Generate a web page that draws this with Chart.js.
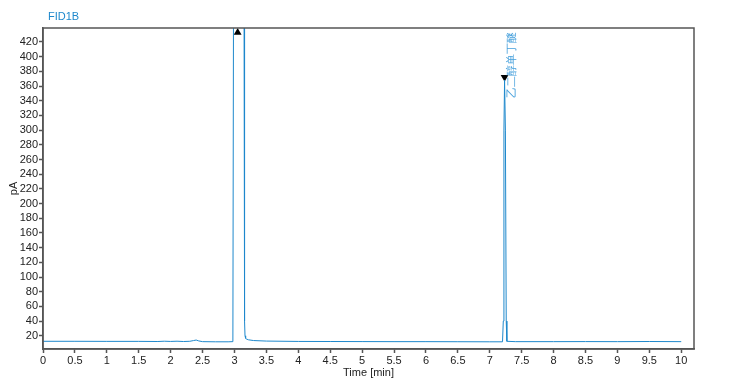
<!DOCTYPE html>
<html>
<head>
<meta charset="utf-8">
<script src="https://cdn.jsdelivr.net/npm/chart.js@4.4.0/dist/chart.umd.min.js"></script>
<style>
  body { margin: 0; background: #fff; }
  #wrap { width: 745px; height: 386px; position: relative; }
</style>
</head>
<body>
<div id="wrap"><canvas id="graph-box"></canvas></div>
<script>
// retention time (min) and detector signal (pA)
const times = [0, 0.5, 1.0, 1.5, 1.8, 1.9, 2.0, 2.1, 2.2, 2.3, 2.36, 2.40, 2.44, 2.5, 2.7, 2.9,
    2.975, 2.985, 3.15, 3.158, 3.165, 3.175, 3.19, 3.22, 3.3, 3.5, 4.0, 4.5, 5.0, 5.5, 6.0, 6.5, 7.0,
    7.2, 7.212, 7.222, 7.232, 7.245, 7.258, 7.268, 7.4, 8.0, 8.5, 9.0, 9.5, 10.0];
const signal = [12.5, 12.5, 12.4, 12.4, 12.2, 12.6, 12.3, 12.6, 12.2, 12.5, 13.5, 14.2, 13.0, 12.0, 11.8, 11.8,
    12, 480, 480, 40, 20, 16.5, 15.5, 14.5, 13.5, 12.8, 12.3, 12.2, 12.1, 12.0, 12.0, 11.9, 11.8,
    11.8, 40, 300, 368, 300, 40, 12.5, 12.0, 12.0, 12.1, 12.0, 12.2, 12.0];

// peak markers
const peakTimes = [3.05, 7.232];
const peakMarkY = [433, 372];
const peakNames = ['', '乙二醇单丁醚'];

const xTicks = [0, 10, 0.5];
const yTicks = [20, 420, 20];

const blue = 'rgb(30, 136, 204)';
const font = '"Liberation Sans", Arial, sans-serif';

const ctx = document.getElementById('graph-box');

const boxPlugin = {
    id: 'box',
    afterDraw(chart) {
        const c = chart.ctx, a = chart.chartArea;
        c.save();
        c.strokeStyle = '#555';
        c.lineWidth = 1.5;
        c.strokeRect(a.left, a.top, a.right - a.left, a.bottom - a.top);
        // title
        c.fillStyle = blue;
        c.font = '11px ' + font;
        c.textBaseline = 'middle';
        c.fillText('FID1B', 48, 17);
        // peak name labels
        const xs = chart.scales.x;
        c.fillStyle = 'rgb(70, 160, 220)';
        peakNames.forEach((name, i) => {
            if (!name) return;
            const px = xs.getPixelForValue(peakTimes[i]) + 7;
            c.save();
            c.translate(px, 98);
            c.rotate(-Math.PI / 2);
            c.textBaseline = 'middle';
            c.textAlign = 'left';
            c.fillText(name, 0, 0);
            c.restore();
        });
        c.restore();
    }
};

const myChart = new Chart(ctx, {
    type: 'scatter',
    data: {
        datasets: [
        {
            data: times.map((t, i) => ({x: t, y: signal[i]})),
            showLine: true,
            borderColor: blue,
            borderWidth: 1,
            pointRadius: 0,
            tension: 0
        },
        {
            data: [{x: peakTimes[0], y: peakMarkY[0]}],
            pointStyle: 'triangle',
            pointRadius: 4.5,
            backgroundColor: '#000',
            borderColor: '#000',
            borderWidth: 0,
            clip: false
        },
        {
            data: [{x: peakTimes[1], y: peakMarkY[1]}],
            pointStyle: 'triangle',
            rotation: 180,
            pointRadius: 4.5,
            backgroundColor: '#000',
            borderColor: '#000',
            borderWidth: 0,
            clip: false
        }]
    },
    options: {
        responsive: true,
        maintainAspectRatio: false,
        animation: false,
        layout: { padding: { top: 28, right: 51, left: 7, bottom: 6 } },
        plugins: {
            legend: { display: false },
            tooltip: { enabled: false }
        },
        scales: {
            x: {
                type: 'linear',
                min: 0,
                max: 10.2,
                afterFit(s) { s.height = 31; },
                grid: { drawOnChartArea: false, tickLength: 4, color: '#555', tickWidth: 1.5 },
                border: { color: '#555', width: 1.5 },
                ticks: {
                    stepSize: xTicks[2],
                    includeBounds: false,
                    maxRotation: 0,
                    autoSkip: false,
                    padding: 1,
                    color: '#222',
                    font: { size: 11, family: font },
                    callback: v => String(Math.round(v * 10) / 10)
                },
                title: {
                    display: true,
                    text: 'Time [min]',
                    color: '#222',
                    padding: { top: 0, bottom: 0 },
                    font: { size: 11, family: font }
                }
            },
            y: {
                min: 2,
                max: 439,
                afterFit(s) { s.width = 36; },
                afterBuildTicks(s) {
                    s.ticks = s.ticks.filter(t => t.value >= yTicks[0] && t.value <= yTicks[1]);
                },
                grid: { drawOnChartArea: false, tickLength: 4, color: '#555', tickWidth: 1.5 },
                border: { color: '#555', width: 1.5 },
                ticks: {
                    stepSize: yTicks[2],
                    includeBounds: false,
                    autoSkip: false,
                    padding: 1,
                    color: '#222',
                    font: { size: 11, family: font }
                },
                title: {
                    display: true,
                    text: 'pA',
                    color: '#222',
                    padding: { top: 0, bottom: 0 },
                    font: { size: 11, family: font }
                }
            }
        }
    },
    plugins: [boxPlugin]
});
</script>
</body>
</html>
